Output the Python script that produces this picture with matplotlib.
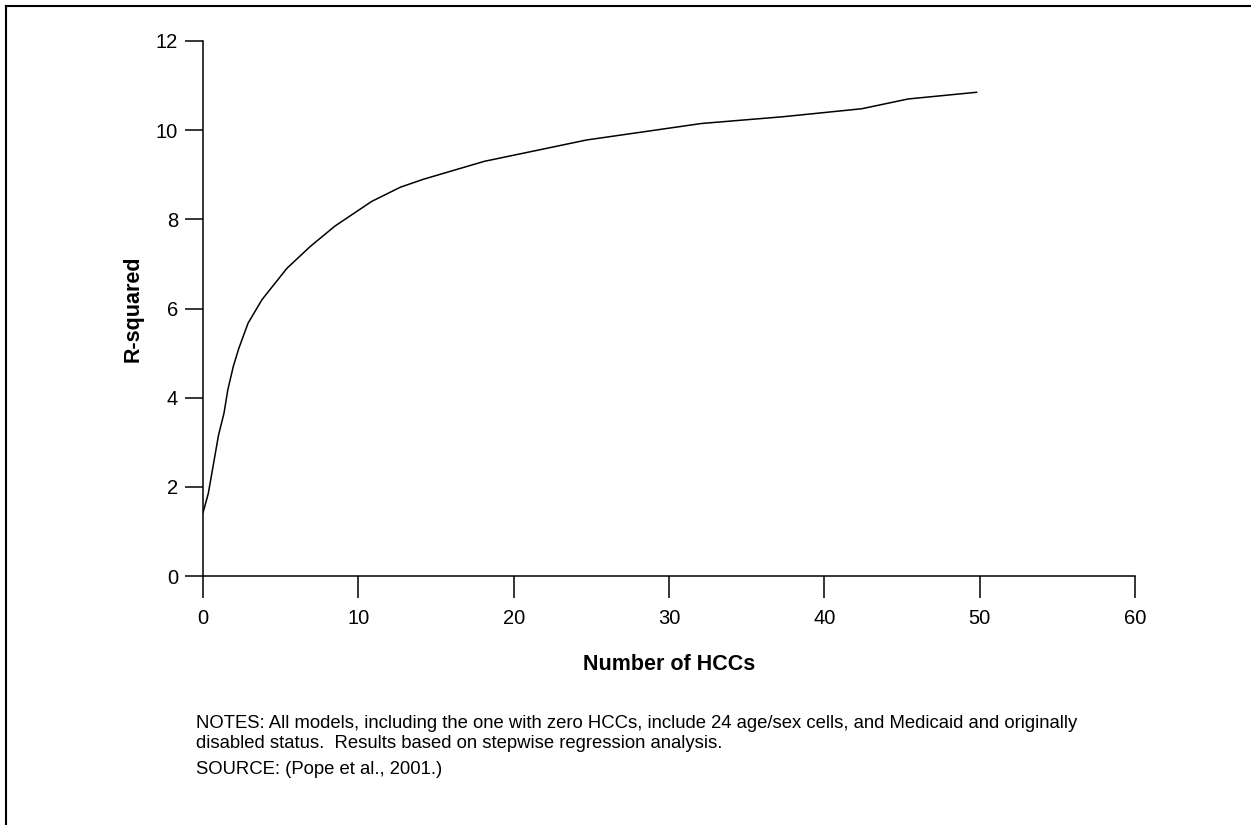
import matplotlib
matplotlib.use("Agg")
import matplotlib.pyplot as plt
from matplotlib.lines import Line2D

plt.rcParams['font.family'] = ['Liberation Sans', 'DejaVu Sans']

# Data
hccs = [0, 0.34, 1.0, 1.35, 1.6, 1.95, 2.3, 2.9, 3.8, 5.4, 6.9, 8.5, 10.85,
        12.7, 14.2, 18.1, 24.7, 32.1, 37.3, 42.4, 45.4, 49.8]
r_squared = [1.42, 1.85, 3.16, 3.65, 4.18, 4.7, 5.1, 5.67, 6.2, 6.9, 7.39, 7.85,
             8.4, 8.72, 8.9, 9.3, 9.78, 10.15, 10.3, 10.48, 10.7, 10.85]
x_ticks = [0, 10, 20, 30, 40, 50, 60]
y_ticks = [0, 2, 4, 6, 8, 10, 12]

notes_lines = [
    "NOTES: All models, including the one with zero HCCs, include 24 age/sex cells, and Medicaid and originally",
    "disabled status.  Results based on stepwise regression analysis.",
    "SOURCE: (Pope et al., 2001.)",
]
notes_y_px = [724, 744, 770]

W, H = 1251, 825
fig = plt.figure(figsize=(W / 100, H / 100), dpi=100)
ax = fig.add_axes([203 / W, 1 - 576 / H, (1135 - 203) / W, (576 - 41) / H])

ax.plot(hccs, r_squared, color='black', lw=1.1, solid_joinstyle='round')

ax.set_xlim(0, 60)
ax.set_ylim(0, 12)
ax.set_xticks(x_ticks)
ax.set_yticks(y_ticks)
for s in ['top', 'right']:
    ax.spines[s].set_visible(False)
for s in ['left', 'bottom']:
    ax.spines[s].set_linewidth(1.1)
ax.tick_params(axis='y', direction='out', length=13, width=1.1, pad=5, labelsize=14.5)
ax.tick_params(axis='x', direction='out', length=16, width=1.1, pad=8, labelsize=14.5)

ax.set_xlabel("Number of HCCs", fontsize=15.5, fontweight='bold', labelpad=18.5)
ax.set_ylabel("R-squared", fontsize=15.5, fontweight='bold', labelpad=9)

for txt, ypx in zip(notes_lines, notes_y_px):
    fig.text(196 / W, 1 - ypx / H, txt, fontsize=13.3, va='center', ha='left')

# Frame lines (left and top)
fig.add_artist(Line2D([6 / W, 6 / W], [0, 1 - 6 / H], transform=fig.transFigure, color='black', lw=1.5))
fig.add_artist(Line2D([6 / W, 1], [1 - 6 / H, 1 - 6 / H], transform=fig.transFigure, color='black', lw=1.5))

fig.savefig("out.png", dpi=100)
